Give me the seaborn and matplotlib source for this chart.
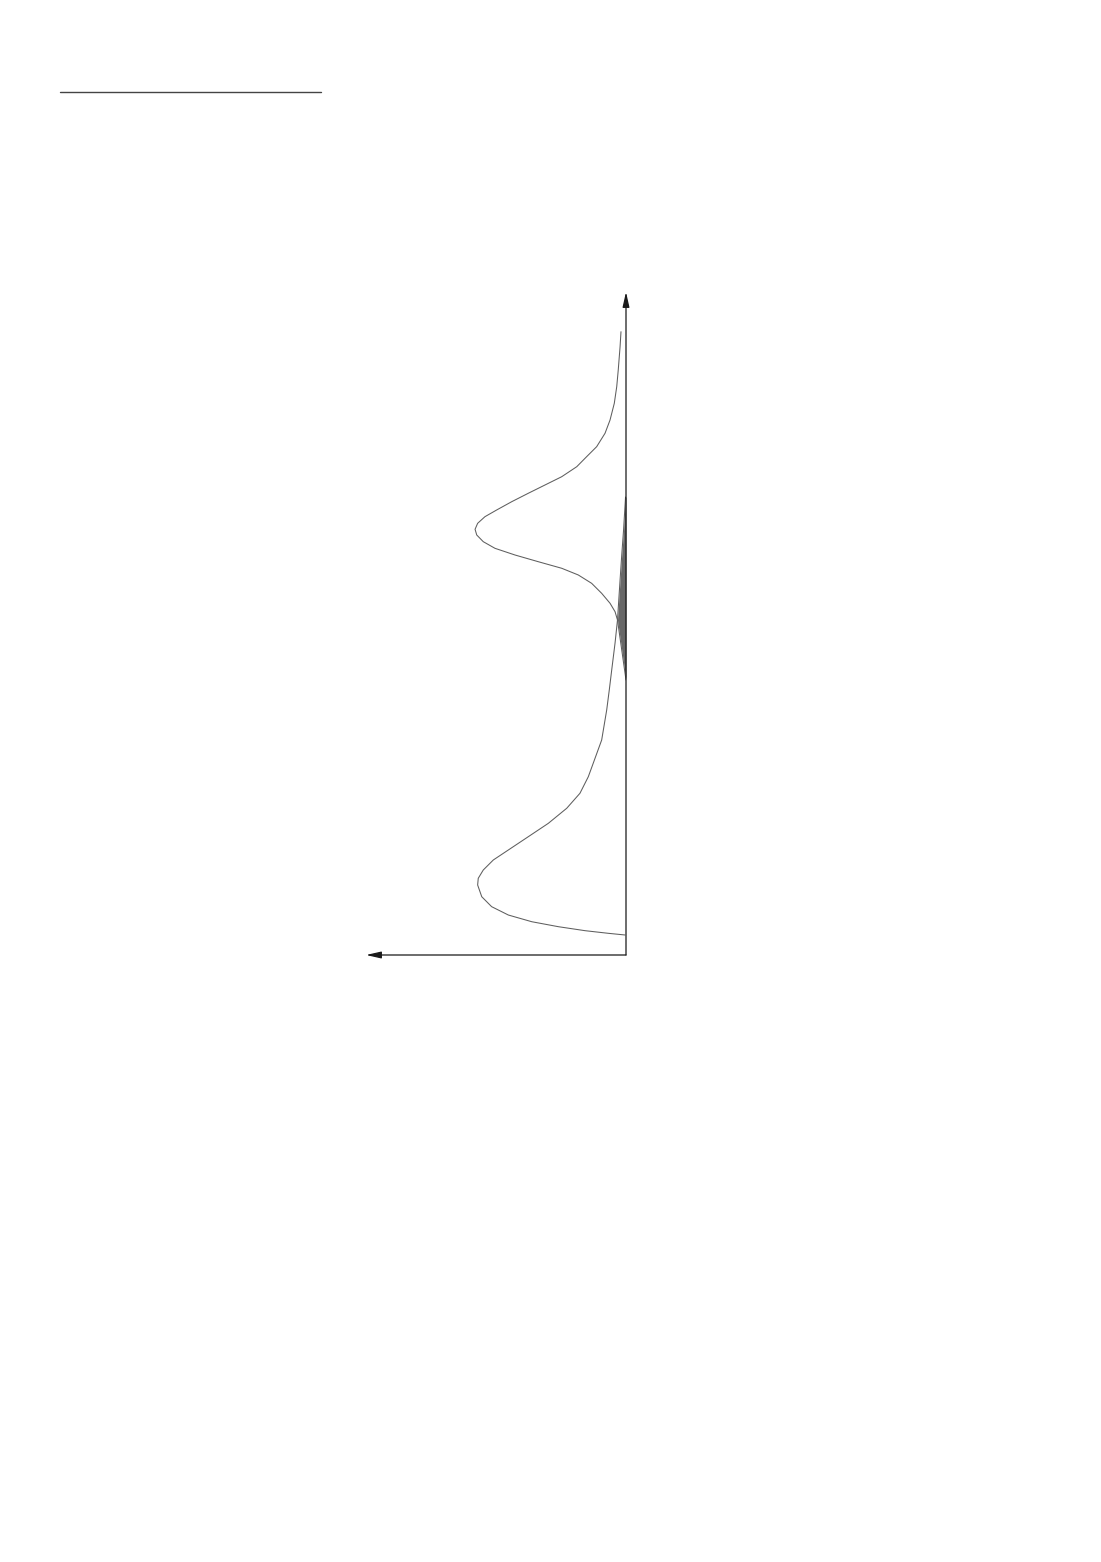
import numpy as np
import pandas as pd
import seaborn as sns
import matplotlib.pyplot as plt
from matplotlib.lines import Line2D

# upper distribution: value on vertical axis, density grows to the left
upper_value = [9.401, 9.175, 8.824, 8.572, 8.321, 8.069, 7.869, 7.667, 7.516, 7.365,
               7.214, 7.089, 6.964, 6.837, 6.712, 6.611, 6.511, 6.421, 6.335, 6.234,
               6.134, 6.033, 5.932, 5.833, 5.732, 5.606, 5.455, 5.305, 5.178, 5.053,
               4.827, 4.600, 4.374, 4.148]
upper_density = [0.033, 0.039, 0.051, 0.061, 0.077, 0.105, 0.138, 0.193, 0.259, 0.324,
                 0.423, 0.533, 0.643, 0.752, 0.851, 0.928, 0.976, 0.993, 0.982, 0.939,
                 0.862, 0.730, 0.577, 0.423, 0.314, 0.226, 0.160, 0.105, 0.072, 0.056,
                 0.042, 0.028, 0.014, 0.000]

# lower distribution
lower_value = [6.908, 6.410, 6.033, 5.656, 5.053, 4.706, 4.299, 3.997, 3.695, 3.243,
               2.896, 2.689, 2.439, 2.213, 1.986, 1.784, 1.584, 1.433, 1.282, 1.157,
               1.056, 0.879, 0.729, 0.603, 0.502, 0.427, 0.367, 0.327, 0.302]
lower_density = [0.003, 0.016, 0.028, 0.039, 0.056, 0.072, 0.094, 0.110, 0.127, 0.160,
                 0.215, 0.248, 0.303, 0.390, 0.511, 0.643, 0.774, 0.873, 0.939, 0.972,
                 0.976, 0.949, 0.884, 0.774, 0.620, 0.445, 0.270, 0.116, 0.007]

crossing = 5.053
x_max, y_max = 1.7105, 10.0

sns.set_theme(style="white")
plt.rcParams['font.family'] = ['DejaVu Sans']

fig = plt.figure(figsize=(11.01, 15.62), dpi=100)
ax = fig.add_axes([366 / 1101, 1 - 955 / 1562, 260 / 1101, 663 / 1562])

up = pd.DataFrame({'value': upper_value, 'density': upper_density})
lo = pd.DataFrame({'value': lower_value, 'density': lower_density})

# overlap region: lower tail above the crossing, upper tail below it
ov = pd.concat([lo[lo['value'] >= crossing], up[up['value'] < crossing]])
ax.fill_betweenx(ov['value'], 0, ov['density'], color='#676767', lw=0, zorder=1)

for d in (up, lo):
    sns.lineplot(data=d, x='density', y='value', sort=False, estimator=None,
                 color='#5e5e5e', lw=0.75, ax=ax, zorder=2)

ax.set_xlim(x_max, 0)
ax.set_ylim(0, y_max)
ax.axis('off')

# axes drawn as arrows
arrow = dict(arrowstyle='-|>,head_length=0.75,head_width=0.17', color='#1a1a1a',
             lw=0.9, shrinkA=0, shrinkB=0)
ax.annotate('', xy=(1, 1), xytext=(1, 0), xycoords='axes fraction',
            textcoords='axes fraction', arrowprops=arrow, annotation_clip=False)
ax.annotate('', xy=(0, 0), xytext=(1, 0), xycoords='axes fraction',
            textcoords='axes fraction', arrowprops=arrow, annotation_clip=False)

# rule at the top of the page
fig.add_artist(Line2D([60 / 1101, 321 / 1101], [1 - 92 / 1562] * 2,
                      transform=fig.transFigure, color='#444444', lw=1.0))

fig.savefig('out.png', dpi=100, facecolor='white')
